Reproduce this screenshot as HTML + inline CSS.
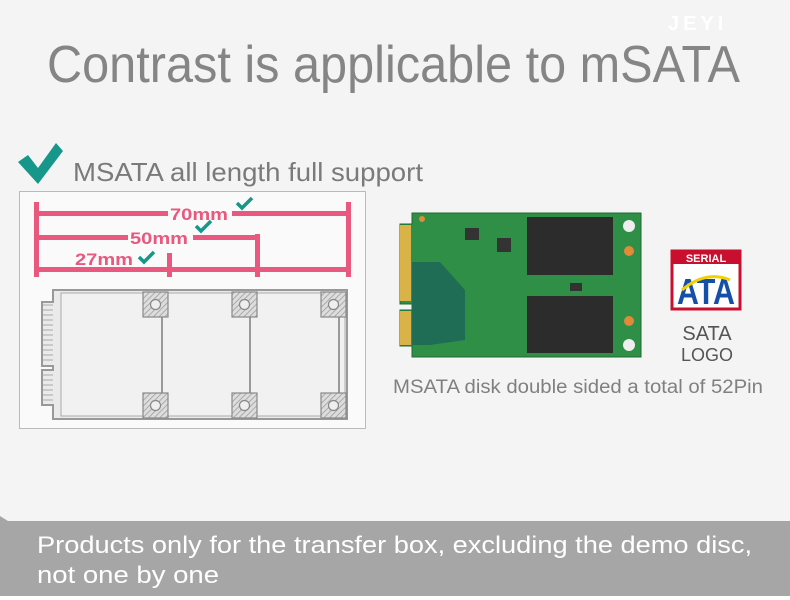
<!DOCTYPE html><html><head><style>body{margin:0;background:#f5f5f5}svg{display:block}</style></head><body>
<svg width="790" height="600" viewBox="0 0 790 600" xmlns="http://www.w3.org/2000/svg" font-family="Liberation Sans, sans-serif">
<defs>
<pattern id="h" width="4" height="4" patternUnits="userSpaceOnUse" patternTransform="rotate(45)"><rect width="4" height="4" fill="#ddd"/><line x1="0" y1="0" x2="0" y2="4" stroke="#999" stroke-width="1.5"/></pattern>
</defs>
<rect width="790" height="600" fill="#f4f4f4"/>
<text x="668" y="30" font-size="20" font-weight="bold" fill="#fff" letter-spacing="4">JEYI</text>
<text x="47" y="82" font-size="52" fill="#858585" textLength="693" lengthAdjust="spacingAndGlyphs">Contrast is applicable to mSATA</text>
<path d="M18 162 L28 155 L38 168 L56 143 L63 151 L38 184 Z" fill="#17978a"/>
<text x="73" y="181" font-size="26" fill="#7a7a7a" textLength="350" lengthAdjust="spacingAndGlyphs">MSATA all length full support</text>
<rect x="19.5" y="191.5" width="346" height="237" fill="#fafafa" stroke="#bbb"/>
<g fill="#e8587f">
<rect x="34" y="202" width="5" height="75"/><rect x="346" y="202" width="5" height="75"/>
<rect x="38" y="211" width="130" height="5"/><rect x="232" y="211" width="114" height="5"/>
<rect x="38" y="235" width="90" height="5"/><rect x="193" y="235" width="64" height="5"/>
<rect x="255" y="234" width="5" height="43"/>
<rect x="167" y="253" width="5" height="24"/>
<rect x="38" y="267" width="310" height="5"/>
</g>
<g font-size="17" font-weight="bold" fill="#e8587f">
<text x="170" y="220" textLength="58" lengthAdjust="spacingAndGlyphs">70mm</text><text x="130" y="244" textLength="58" lengthAdjust="spacingAndGlyphs">50mm</text><text x="75" y="265" textLength="58" lengthAdjust="spacingAndGlyphs">27mm</text>
</g>
<g fill="none" stroke="#17978a" stroke-width="3.5">
<path d="M237 203 l5 5 l10 -10"/><path d="M196 226 l5 5 l10 -10"/><path d="M139 257 l5 5 l10 -10"/>
</g>
<g stroke="#999" stroke-width="2" fill="#eaeaea">
<path d="M53 290 H347 V419 H53 V405 H42 V370 H53 V366 H42 V302 H53 Z"/>
</g>
<g stroke="#aaa" stroke-width="1">
<path d="M43 305h10M43 310h10M43 315h10M43 320h10M43 325h10M43 330h10M43 335h10M43 340h10M43 345h10M43 350h10M43 355h10M43 360h10M43 375h10M43 380h10M43 385h10M43 390h10M43 395h10M43 400h10"/>
</g>
<rect x="61" y="293" width="284" height="123" fill="#f1f1f1" stroke="#aaa"/>
<g stroke="#999" stroke-width="2"><line x1="162" y1="317" x2="162" y2="393"/><line x1="250" y1="317" x2="250" y2="393"/><line x1="339" y1="317" x2="339" y2="393"/></g>
<g stroke="#888" stroke-width="1.2" fill="url(#h)">
<rect x="143" y="292" width="25" height="25"/><rect x="143" y="393" width="25" height="25"/>
<rect x="232" y="292" width="25" height="25"/><rect x="232" y="393" width="25" height="25"/>
<rect x="321" y="292" width="25" height="25"/><rect x="321" y="393" width="25" height="25"/>
</g>
<g fill="#eee" stroke="#888" stroke-width="1.2">
<circle cx="155.5" cy="304.5" r="5"/><circle cx="155.5" cy="405.5" r="5"/><circle cx="244.5" cy="304.5" r="5"/><circle cx="244.5" cy="405.5" r="5"/><circle cx="333.5" cy="304.5" r="5"/><circle cx="333.5" cy="405.5" r="5"/>
</g>
<path d="M412 213 H641 V357 H412 V346 H400 V310 H412 V304 H400 V224 H412 Z" fill="#2f8f46" stroke="#1f6a30"/>
<g fill="#d9b347"><rect x="400" y="225" width="11" height="76"/><rect x="400" y="311" width="11" height="34"/></g>
<path d="M412 262 L440 262 L465 290 L465 340 L430 345 L412 345 Z" fill="#1f6d55"/>
<rect x="527" y="217" width="86" height="58" fill="#2c2c2c"/>
<rect x="527" y="296" width="86" height="57" fill="#2c2c2c"/>
<g fill="#333"><rect x="465" y="228" width="14" height="12"/><rect x="497" y="238" width="14" height="14"/><rect x="570" y="283" width="12" height="8"/></g>
<g fill="#eee"><circle cx="629" cy="226" r="6"/><circle cx="629" cy="345" r="6"/></g>
<g fill="#e08a3a"><circle cx="629" cy="251" r="5"/><circle cx="629" cy="321" r="5"/><circle cx="422" cy="219" r="3"/></g>
<rect x="672" y="251" width="68" height="58" fill="#fff" stroke="#c8102e" stroke-width="3"/>
<rect x="672" y="251" width="68" height="13" fill="#c8102e"/>
<text x="706" y="262" font-size="11" font-weight="bold" fill="#fff" text-anchor="middle">SERIAL</text>
<text x="706" y="304" font-size="36" font-weight="bold" fill="#1550a8" text-anchor="middle" textLength="58" lengthAdjust="spacingAndGlyphs">ATA</text>
<path d="M682 290 Q706 270 730 280" fill="none" stroke="#f3d000" stroke-width="3"/>
<text x="707" y="340" font-size="20" fill="#555" text-anchor="middle">SATA</text>
<text x="707" y="361" font-size="18" fill="#555" text-anchor="middle">LOGO</text>
<text x="393" y="393" font-size="19" fill="#808080" textLength="370" lengthAdjust="spacingAndGlyphs">MSATA disk double sided a total of 52Pin</text>
<path d="M0 516 L8 521 H790 V596 H0 Z" fill="#a6a6a6"/>
<rect x="0" y="596" width="790" height="4" fill="#fff"/>
<text x="37" y="553" font-size="24" fill="#fff" textLength="715" lengthAdjust="spacingAndGlyphs">Products only for the transfer box, excluding the demo disc,</text>
<text x="37" y="583" font-size="24" fill="#fff" textLength="182" lengthAdjust="spacingAndGlyphs">not one by one</text>
</svg></body></html>
